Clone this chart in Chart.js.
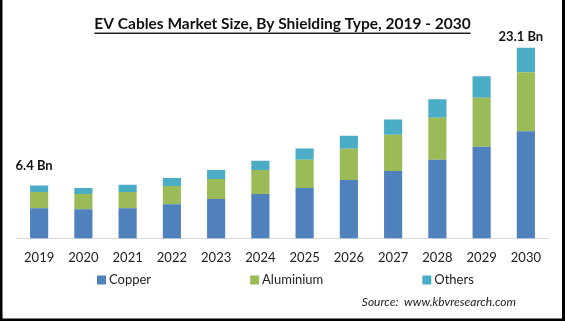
<!DOCTYPE html>
<html>
<head>
<meta charset="utf-8">
<title>EV Cables Market Size</title>
<script src="https://cdn.jsdelivr.net/npm/chart.js@4.4.1/dist/chart.umd.min.js"></script>
<style>
    body { margin: 0; background: #fff; }
    .wrap { position: relative; width: 565px; height: 321px; }
</style>
</head>
<body>
<div class="wrap">
    <canvas id="myChart"></canvas>
</div>
<script>
const years = ["2019", "2020", "2021", "2022", "2023", "2024", "2025", "2026", "2027", "2028", "2029", "2030"];

// USD Bn per year
const copper    = [3.66, 3.54, 3.66, 4.15, 4.76, 5.37, 6.10, 7.08, 8.18, 9.52, 11.10, 13.00];
const aluminium = [1.95, 1.83, 1.95, 2.20, 2.44, 2.93, 3.42, 3.78, 4.39, 5.09, 5.94, 7.15];
const others    = [0.79, 0.73, 0.89, 0.98, 1.10, 1.10, 1.38, 1.59, 1.83, 2.24, 2.60, 2.95];

// totals printed over the first and last bar
const totalLabels = [
    { index: 0, text: "6.4 Bn", lift: 20 },
    { index: 11, text: "23.1 Bn", lift: 11 }
];

const colors = { copper: "#4F81BD", aluminium: "#9BBB59", others: "#4BACC6" };
const fontFamily = "Lato, 'Open Sans', sans-serif";
const titleSize = 15.5;

// ------

// underline under title, totals, legend row, source line and frame
const extras = {
    id: "extras",
    afterDraw(chart) {
        const c = chart.ctx;
        const x = chart.scales.x;
        const y = chart.scales.y;

        // title underline
        const tb = chart.titleBlock;
        c.save();
        c.font = `bold ${titleSize}px ${fontFamily}`;
        const tw = c.measureText(chart.options.plugins.title.text).width;
        const tcx = tb.left + tb.width / 2;
        c.fillStyle = "#000";
        c.fillRect(tcx - tw / 2, tb.top + tb.height - 1, tw, 1.3);

        // totals
        c.font = `bold 13px ${fontFamily}`;
        c.textAlign = "center";
        c.textBaseline = "middle";
        c.fillStyle = "#111";
        totalLabels.forEach(l => {
            const total = copper[l.index] + aluminium[l.index] + others[l.index];
            c.fillText(l.text, x.getPixelForValue(l.index) - 5, y.getPixelForValue(total) - l.lift);
        });

        // legend
        c.font = `13px ${fontFamily}`;
        c.textAlign = "left";
        let lx = 97;
        const ly = 280;
        chart.data.datasets.forEach(ds => {
            c.fillStyle = ds.backgroundColor;
            c.fillRect(lx, ly - 4.5, 9, 9);
            c.fillStyle = "#222";
            c.fillText(ds.label, lx + 12, ly);
            lx += 12 + c.measureText(ds.label).width + 99;
        });

        // source
        c.font = `italic 12px ${fontFamily}`;
        c.textAlign = "right";
        c.fillStyle = "#222";
        c.fillText("Source:  www.kbvresearch.com", 516, 302);

        // frame
        c.fillStyle = "#000";
        c.fillRect(0, 0, 2.5, 321);
        c.fillRect(562, 0, 3, 321);
        c.fillRect(0, 318.5, 565, 2.5);
        c.restore();
    }
};

const ctx = document.getElementById("myChart").getContext("2d");
const myChart = new Chart(ctx, {
    type: "bar",
    data: {
        labels: years,
        datasets: [
            { label: "Copper", data: copper, backgroundColor: colors.copper },
            { label: "Aluminium", data: aluminium, backgroundColor: colors.aluminium },
            { label: "Others", data: others, backgroundColor: colors.others }
        ]
    },
    options: {
        responsive: true,
        maintainAspectRatio: false,
        animation: false,
        layout: { padding: { left: 17, right: 17, top: 0, bottom: 51 } },
        datasets: {
            bar: { barPercentage: 0.41, categoryPercentage: 1 }
        },
        scales: {
            x: {
                stacked: true,
                grid: { display: false },
                border: { display: true, color: "#D9D9D9", width: 1 },
                ticks: {
                    color: "#222",
                    padding: 4,
                    font: { family: fontFamily, size: 13 }
                }
            },
            y: {
                stacked: true,
                display: false,
                min: 0,
                max: 24.82
            }
        },
        plugins: {
            legend: { display: false },
            tooltip: { enabled: false },
            title: {
                display: true,
                text: "EV Cables Market Size, By Shielding Type, 2019 - 2030",
                color: "#111",
                padding: { top: 15, bottom: 0 },
                font: { family: fontFamily, size: titleSize, weight: "bold" }
            }
        }
    },
    plugins: [extras]
});
</script>
</body>
</html>
